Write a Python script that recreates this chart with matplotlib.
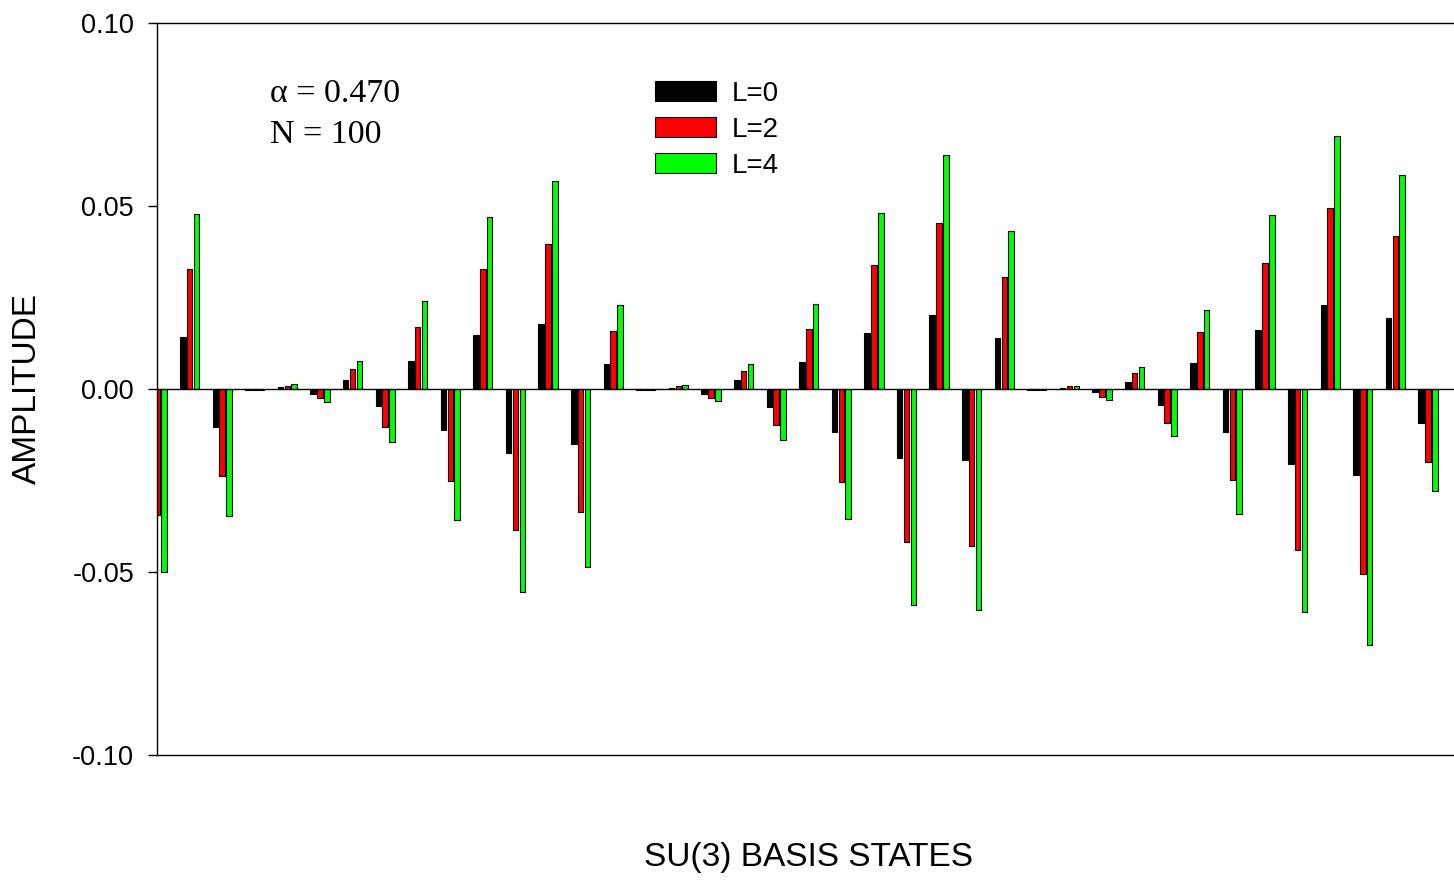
import numpy as np
import matplotlib
matplotlib.use("Agg")
import matplotlib.pyplot as plt
from matplotlib.patches import Patch

# amplitudes, one value per SU(3) basis state
amp_L0 = [-0.0150, 0.0142, -0.0104, -0.0002, 0.0005, -0.0013, 0.0025, -0.0047, 0.0077, -0.0112,
          0.0147, -0.0174, 0.0177, -0.0150, 0.0069, -0.0002, 0.0003, -0.0014, 0.0024, -0.0048,
          0.0073, -0.0118, 0.0153, -0.0189, 0.0203, -0.0194, 0.0138, -0.0002, 0.0004, -0.0009,
          0.0019, -0.0044, 0.0072, -0.0117, 0.0160, -0.0205, 0.0229, -0.0235, 0.0195, -0.0094]
amp_L2 = [-0.0343, 0.0329, -0.0237, -0.0004, 0.0008, -0.0024, 0.0054, -0.0104, 0.0169, -0.0252,
          0.0329, -0.0386, 0.0397, -0.0336, 0.0159, -0.0004, 0.0007, -0.0024, 0.0050, -0.0097,
          0.0164, -0.0254, 0.0339, -0.0417, 0.0454, -0.0429, 0.0305, -0.0004, 0.0008, -0.0021,
          0.0045, -0.0093, 0.0155, -0.0250, 0.0343, -0.0440, 0.0494, -0.0505, 0.0418, -0.0199]
amp_L4 = [-0.0500, 0.0477, -0.0348, -0.0004, 0.0013, -0.0036, 0.0077, -0.0146, 0.0241, -0.0359,
          0.0470, -0.0554, 0.0568, -0.0485, 0.0229, -0.0004, 0.0012, -0.0033, 0.0068, -0.0139,
          0.0232, -0.0356, 0.0480, -0.0589, 0.0640, -0.0604, 0.0431, -0.0004, 0.0008, -0.0029,
          0.0061, -0.0128, 0.0216, -0.0341, 0.0475, -0.0609, 0.0690, -0.0700, 0.0586, -0.0279]

series_labels = ["L=0", "L=2", "L=4"]
series_colors = ["#000000", "#ff0000", "#00ff00"]
y_ticks = [-0.10, -0.05, 0.00, 0.05, 0.10]

fig = plt.figure(figsize=(14.54, 8.8), dpi=100)
ax = fig.add_axes([157 / 1454, 1 - 755 / 880, 1 - 157 / 1454, 732 / 880])

x = np.arange(len(amp_L0))
w = 0.17
step = 0.21
for k, (vals, col) in enumerate(zip([amp_L0, amp_L2, amp_L4], series_colors)):
    ax.bar(x + (k - 1) * step, vals, width=w, color=col, edgecolor="black",
           linewidth=0.8, zorder=2)

ax.axhline(0, color="black", linewidth=1.0, zorder=3)

ax.set_xlim(0, 39.8)
ax.set_ylim(-0.10, 0.10)
ax.set_xticks([])
ax.set_yticks(y_ticks)
ax.set_yticklabels(["%.2f" % t for t in y_ticks])
ax.tick_params(axis="y", direction="out", length=6.5, width=1.0, pad=10,
               labelsize=19.5)
for lab in ax.get_yticklabels():
    lab.set_family("Liberation Sans")
ax.spines["right"].set_visible(False)
for s in ["top", "left", "bottom"]:
    ax.spines[s].set_linewidth(1.0)

fig.text(808 / 1454, 1 - 857 / 880, "SU(3) BASIS STATES", ha="center", va="center",
         fontsize=24, family="Liberation Sans")
fig.text(27 / 1454, 1 - 389 / 880, "AMPLITUDE", ha="center", va="center",
         rotation=90, fontsize=24, family="Liberation Sans")

fig.text(270 / 1454, 1 - 94 / 880, "α = 0.470", ha="left", va="center",
         fontsize=24.5, family="Liberation Serif")
fig.text(270 / 1454, 1 - 135 / 880, "N = 100", ha="left", va="center",
         fontsize=24.5, family="Liberation Serif")

handles = [Patch(facecolor=c, edgecolor="black", linewidth=0.8) for c in series_colors]
leg = fig.legend(handles, series_labels, loc="upper left",
                 bbox_to_anchor=(655 / 1454, 1 - 81 / 880), frameon=False,
                 borderpad=0, borderaxespad=0, handlelength=2.2, handleheight=0.75,
                 handletextpad=0.55, labelspacing=0.36,
                 prop={"family": "Liberation Sans", "size": 20})

fig.savefig("out.png", dpi=100)
